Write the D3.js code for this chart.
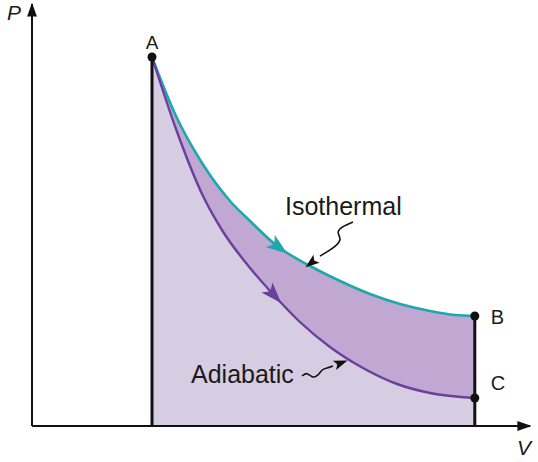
<!DOCTYPE html>
<head>
<meta charset='utf-8'>
<style>
  body { margin: 0; background: #fff; }
  #vis { width: 538px; height: 462px; }
  text { font-family: 'Liberation Sans', Arial, sans-serif; fill: #1a1a1a; }
</style>
</head>
<body>
<div id='vis'></div>
<script src='https://d3js.org/d3.v7.min.js'></script>
<script>
  // volumes and pressures (arbitrary units)
  const isoV = [1.0, 1.192, 1.417, 1.65, 1.817, 2.042, 2.317, 2.567, 2.817, 3.067, 3.317, 3.525, 3.69]
  const isoP = [3.69, 3.12, 2.63, 2.25, 2.05, 1.80, 1.60, 1.45, 1.32, 1.22, 1.15, 1.11, 1.10]

  const adiV = [1.0, 1.2, 1.425, 1.583, 1.817, 2.0, 2.233, 2.483, 2.758, 3.042, 3.317, 3.69]
  const adiP = [3.69, 2.97, 2.30, 1.96, 1.58, 1.33, 1.04, 0.79, 0.58, 0.42, 0.33, 0.28]

  const states = ['A', 'B', 'C']
  const stateV = [1.0, 3.69, 3.69]
  const stateP = [3.69, 1.10, 0.28]

  const width = 538, height = 462

  const x = d3.scaleLinear().domain([0, 4.15]).range([32, 530])
  const y = d3.scaleLinear().domain([0, 4.22]).range([426, 4])

  const iso = isoV.map((v, i) => [v, isoP[i]])
  const adi = adiV.map((v, i) => [v, adiP[i]])

  const svg = d3.select('#vis').append('svg')
    .attr('width', width).attr('height', height)

  const defs = svg.append('defs')
  defs.append('marker')
    .attr('id', 'axisArrow')
    .attr('viewBox', '0 0 10 10')
    .attr('refX', 9).attr('refY', 5)
    .attr('markerWidth', 7).attr('markerHeight', 7)
    .attr('markerUnits', 'strokeWidth')
    .attr('orient', 'auto')
    .append('path').attr('d', 'M0,1.5L10,5L0,8.5Z').attr('fill', '#111')

  const curve = d3.curveMonotoneX

  const area = d3.area().x(d => x(d[0])).y0(y(0)).y1(d => y(d[1])).curve(curve)
  const line = d3.line().x(d => x(d[0])).y(d => y(d[1])).curve(curve)

  // darker band = area under isotherm, lighter = area under adiabat on top
  svg.append('path').attr('d', area(iso)).attr('fill', '#c0a8d2')
  svg.append('path').attr('d', area(adi)).attr('fill', '#d6cde3')

  const isoPath = svg.append('path').attr('d', line(iso))
    .attr('fill', 'none').attr('stroke', '#1ea8ab').attr('stroke-width', 2.6)
  const adiPath = svg.append('path').attr('d', line(adi))
    .attr('fill', 'none').attr('stroke', '#6b3f9c').attr('stroke-width', 2.4)

  // direction arrowheads on the curves
  function arrowOn(pathSel, vAt, color) {
    const node = pathSel.node()
    const total = node.getTotalLength()
    let lo = 0, hi = total
    for (let k = 0; k < 30; k++) {
      const mid = (lo + hi) / 2
      if (node.getPointAtLength(mid).x < x(vAt)) lo = mid; else hi = mid
    }
    const p = node.getPointAtLength(lo)
    const q = node.getPointAtLength(Math.min(total, lo + 2))
    const ang = Math.atan2(q.y - p.y, q.x - p.x) * 180 / Math.PI
    svg.append('path')
      .attr('d', 'M10,0L-11,-7.5L-6,0L-11,7.5Z')
      .attr('fill', color)
      .attr('transform', `translate(${p.x},${p.y}) rotate(${ang})`)
  }
  arrowOn(isoPath, 2.06, '#1ea8ab')
  arrowOn(adiPath, 2.02, '#6b3f9c')

  // axes
  svg.append('line')
    .attr('x1', x(0)).attr('y1', y(0)).attr('x2', x(0)).attr('y2', y(4.22))
    .attr('stroke', '#111').attr('stroke-width', 2)
    .attr('marker-end', 'url(#axisArrow)')
  svg.append('line')
    .attr('x1', x(0)).attr('y1', y(0)).attr('x2', x(4.15)).attr('y2', y(0))
    .attr('stroke', '#111').attr('stroke-width', 2)
    .attr('marker-end', 'url(#axisArrow)')

  // vertical boundaries at A and B
  ;[0, 1].forEach(i => {
    svg.append('line')
      .attr('x1', x(stateV[i])).attr('x2', x(stateV[i]))
      .attr('y1', y(stateP[i])).attr('y2', y(0))
      .attr('stroke', '#111').attr('stroke-width', 3)
  })

  svg.selectAll('.state')
    .data(states)
    .enter().append('circle')
    .attr('class', 'state')
    .attr('cx', (d, i) => x(stateV[i]))
    .attr('cy', (d, i) => y(stateP[i]))
    .attr('r', 4.5)
    .attr('fill', '#111')

  // state labels
  svg.append('text').attr('x', x(stateV[0])).attr('y', y(stateP[0]) - 8)
    .attr('text-anchor', 'middle').attr('font-size', 19).text('A')
  svg.append('text').attr('x', x(stateV[1]) + 16).attr('y', y(stateP[1]) + 8)
    .attr('font-size', 20).text('B')
  svg.append('text').attr('x', x(stateV[2]) + 16).attr('y', y(stateP[2]) - 8)
    .attr('font-size', 20).text('C')

  svg.append('text').attr('x', 7).attr('y', 20)
    .attr('font-size', 21).attr('font-style', 'italic').text('P')
  svg.append('text').attr('x', 517).attr('y', 455)
    .attr('font-size', 21).attr('font-style', 'italic').text('V')

  // callout labels
  svg.append('text').attr('x', 285).attr('y', 215).attr('font-size', 25).text('Isothermal')
  svg.append('text').attr('x', 191).attr('y', 383).attr('font-size', 25).text('Adiabatic')

  // wavy leader lines
  const wave = d3.line().curve(d3.curveBasis)
  svg.append('path')
    .attr('d', wave([[353, 222], [343, 226], [336, 232], [342, 239], [336, 246], [327, 252], [320, 256]]))
    .attr('fill', 'none').attr('stroke', '#111').attr('stroke-width', 1.6)
  svg.append('path')
    .attr('d', 'M7,0L-7,-5L-4,0L-7,5Z').attr('fill', '#111')
    .attr('transform', 'translate(311,263) rotate(142)')

  svg.append('path')
    .attr('d', wave([[302, 376], [307, 372], [312, 378], [318, 376], [322, 369], [328, 368], [333, 366]]))
    .attr('fill', 'none').attr('stroke', '#111').attr('stroke-width', 1.6)
  svg.append('path')
    .attr('d', 'M7,0L-7,-5L-4,0L-7,5Z').attr('fill', '#111')
    .attr('transform', 'translate(341,363) rotate(-20)')
</script>
</body>
